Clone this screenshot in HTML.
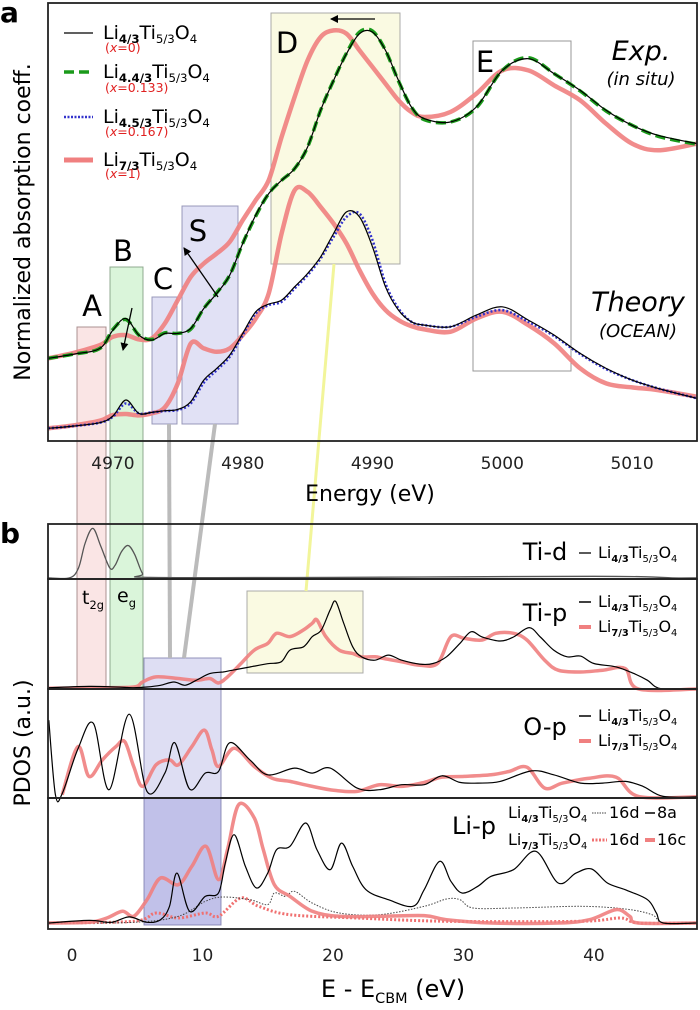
<!DOCTYPE html>
<html><head><meta charset="utf-8"><style>
html,body{margin:0;padding:0;background:#fff;}
svg{display:block;font-family:"DejaVu Sans","Liberation Sans",sans-serif;}
</style></head><body>
<svg id="fig" width="700" height="1010" viewBox="0 0 700 1010" xmlns="http://www.w3.org/2000/svg">
<g id="under"></g>
<g id="curves"></g>
<g id="over"></g>
</svg>
<script>
// ---------- Panel a data (energy eV, normalized intensity) ----------
const aE = [4965,4967,4969,4970,4971,4972,4973,4974,4975,4976,4977,4978,4979,4980,4981,4982,4983,4984,4985,4986,4987,4988,4989,4990,4991,4992,4993,4994,4996,4998,5000,5002,5004,5006,5008,5010,5012,5015];
const expLi43 = [2.45,2.58,2.75,3.30,3.65,3.15,3.00,3.20,3.20,3.35,3.95,4.40,4.95,5.90,6.75,7.40,7.80,8.15,8.80,9.90,10.80,11.60,12.20,12.25,11.70,10.80,10.00,9.65,9.55,10.00,11.10,11.45,11.00,10.50,9.90,9.45,9.15,8.90];
const expLi443 = [2.45,2.58,2.75,3.32,3.62,3.15,3.02,3.22,3.20,3.33,3.95,4.42,4.95,5.90,6.72,7.40,7.80,8.15,8.80,9.90,10.80,11.62,12.25,12.28,11.70,10.78,10.00,9.62,9.55,9.98,11.10,11.48,11.00,10.48,9.88,9.45,9.12,8.88];
const expLi73 = [2.45,2.62,2.85,3.10,3.15,3.02,3.05,3.50,4.20,4.90,5.30,5.60,5.95,6.60,7.20,7.80,9.10,10.30,11.40,12.10,12.30,12.20,11.70,11.20,10.70,10.20,9.85,9.70,9.85,10.40,11.10,11.10,10.65,10.20,9.50,8.90,8.70,8.90];
const thLi43 = [0.35,0.42,0.52,0.72,1.20,0.80,0.83,0.88,0.92,1.15,1.80,2.15,2.55,3.20,3.85,4.08,4.20,4.60,5.00,5.50,6.20,6.85,6.70,5.80,4.60,3.90,3.55,3.45,3.40,3.75,4.00,3.60,3.15,2.60,2.15,1.80,1.55,1.25];
const thLi453 = [0.35,0.42,0.52,0.70,1.10,0.80,0.83,0.87,0.90,1.10,1.72,2.10,2.50,3.15,3.80,4.05,4.15,4.55,4.95,5.45,6.10,6.70,6.80,6.00,4.70,3.95,3.55,3.45,3.40,3.70,3.90,3.55,3.12,2.58,2.13,1.80,1.55,1.25];
const thLi73 = [0.35,0.44,0.58,0.75,0.78,0.74,0.80,0.98,1.70,2.90,2.75,2.65,2.75,3.15,3.65,4.40,6.20,7.50,7.45,7.00,6.50,5.90,5.10,4.40,3.90,3.60,3.42,3.32,3.25,3.65,3.85,3.45,2.90,2.15,1.70,1.58,1.50,1.30];
const aTicks = [4970,4980,4990,5000,5010];

// ---------- Panel b data (E - E_CBM, a.u.) ----------
const tidE = [-1.8,-0.2,0.5,1.0,1.6,2.2,2.9,3.3,3.8,4.3,4.8,5.4,6,20,30,40,44,46,47.9];
const tidV = [0.02,0.02,0.2,0.65,0.92,0.6,0.2,0.25,0.5,0.61,0.45,0.1,0.03,0.03,0.04,0.05,0.04,0.02,0.02];
const tipBlackE = [-1.78,1.30,3.36,4.73,5.75,6.78,7.81,8.66,9.52,10.55,11.58,12.26,13.63,15.00,16.03,16.71,17.74,18.42,19.11,19.79,20.21,20.82,21.51,22.19,23.22,24.25,25.27,26.64,27.67,28.70,29.73,30.58,31.44,32.81,33.84,35.03,35.89,36.92,37.95,38.97,40.00,41.71,43.08,44.11,45.14,47.9];
const tipBlackV = [0.012,0.024,0.018,0.012,0.018,0.034,0.064,0.034,0.079,0.14,0.155,0.17,0.20,0.23,0.247,0.354,0.384,0.476,0.537,0.72,0.796,0.598,0.384,0.293,0.262,0.308,0.262,0.226,0.232,0.293,0.415,0.52,0.473,0.436,0.473,0.558,0.473,0.354,0.293,0.299,0.232,0.201,0.140,0.079,0.003,0];
const tipRedE = [-1.78,1.99,4.73,5.41,6.44,8.15,9.52,10.55,11.23,11.92,12.95,13.97,15.00,15.68,16.71,17.74,18.42,18.77,19.45,20.48,21.51,22.19,23.22,23.90,25.27,26.64,28.01,29.04,30.07,31.44,32.47,33.84,34.86,36.23,37.26,38.97,40.68,42.40,43.42,47.9];
const tipRedV = [0.006,0.012,0.018,0.064,0.110,0.095,0.079,0.095,0.055,0.110,0.232,0.354,0.415,0.506,0.476,0.537,0.598,0.628,0.476,0.354,0.323,0.293,0.293,0.277,0.247,0.216,0.232,0.476,0.460,0.445,0.506,0.506,0.445,0.262,0.171,0.155,0.171,0.186,0.0,0];
const opBlackE = [-1.78,-1.27,-0.75,0.45,1.64,2.84,4.38,5.75,7.12,7.88,9.01,10.21,11.23,12.09,13.63,15.00,17.05,18.42,19.79,21.85,23.56,25.27,26.99,28.36,29.73,31.10,32.81,35.21,36.92,38.97,40.68,42.40,43.77,45.31,47.9];
const opBlackV = [0.714,0.03,0.04,0.45,0.684,0.076,0.769,0.061,0.228,0.507,0.082,0.228,0.243,0.507,0.350,0.213,0.274,0.228,0.274,0.091,0.076,0.122,0.122,0.204,0.143,0.137,0.152,0.249,0.213,0.137,0.137,0.152,0.106,0.015,0.01];
const opRedE = [-0.75,0.45,1.30,2.33,3.36,4.04,4.73,5.41,6.44,7.47,8.15,9.18,10.14,10.72,11.23,12.43,13.97,15.34,16.71,18.42,20.14,21.85,23.56,25.27,26.99,28.36,30.07,32.12,33.49,34.86,36.23,37.60,39.66,41.71,43.42,47.9];
const opRedV = [0.03,0.471,0.198,0.350,0.471,0.517,0.289,0.106,0.304,0.350,0.304,0.471,0.623,0.441,0.289,0.456,0.289,0.182,0.152,0.106,0.070,0.061,0.122,0.106,0.143,0.191,0.198,0.213,0.243,0.283,0.091,0.137,0.182,0.191,0.015,0.01];
const li8aE = [-1.78,1.30,3.01,4.38,5.75,6.78,7.47,8.05,9.01,10.21,11.23,11.75,12.43,13.29,14.14,15.00,15.68,16.71,17.91,18.77,19.79,20.65,21.51,22.53,24.25,26.13,26.99,28.18,29.04,29.90,31.10,32.12,33.84,35.55,37.26,38.63,39.83,41.03,42.40,44.11,44.79,45.31,47.9];
const li8aV = [0.046,0.066,0.051,0.092,0.051,0.071,0.173,0.427,0.135,0.249,0.275,0.504,0.720,0.478,0.313,0.427,0.606,0.631,0.809,0.606,0.453,0.656,0.478,0.300,0.224,0.173,0.300,0.517,0.364,0.275,0.326,0.402,0.453,0.593,0.351,0.427,0.458,0.351,0.300,0.224,0.122,0.046,0.046];
const li16cE = [-1.78,1.30,2.67,3.87,4.73,5.75,6.78,8.15,9.18,10.27,11.23,11.92,12.77,13.97,14.66,15.51,16.71,18.42,20.48,23.56,26.99,28.70,32.12,37.26,39.66,41.71,42.74,43.42,47.9];
const li16cV = [0.046,0.051,0.084,0.135,0.097,0.224,0.389,0.338,0.478,0.631,0.377,0.606,0.949,0.847,0.606,0.338,0.249,0.135,0.097,0.097,0.102,0.071,0.046,0.046,0.071,0.148,0.097,0.046,0.046];
const li16dBlackE = [-1.78,4.73,8.15,10.21,11.58,13.63,15.00,15.51,16.37,17.05,18.42,20.48,23.56,26.99,28.70,29.73,30.75,33.84,38.97,42.40,44.45,45.31,47.9];
const li16dBlackV = [0.046,0.051,0.097,0.211,0.244,0.224,0.186,0.275,0.249,0.288,0.198,0.122,0.109,0.173,0.229,0.224,0.160,0.160,0.173,0.153,0.109,0.046,0.046];
const li16dRedE = [-1.78,4.73,6.44,8.15,10.21,11.23,12.94,14.31,16.71,21.85,28.70,38.97,42.05,43.42,47.9];
const li16dRedV = [0.046,0.059,0.122,0.084,0.122,0.097,0.237,0.173,0.109,0.084,0.059,0.059,0.084,0.046,0.046];
const bTicks = [0,10,20,30,40];

const NS = "http://www.w3.org/2000/svg";
const under = document.getElementById('under');
const curvesG = document.getElementById('curves');
const over = document.getElementById('over');
function el(tag, attrs, parent){ const e=document.createElementNS(NS,tag); for(const k in attrs) e.setAttribute(k,attrs[k]); parent.appendChild(e); return e; }

const aL=48, aR=697, aT=3, aB=441;
function xa(E){ return aL + (E-4965)/(5015-4965)*(aR-aL); }
function ya(v){ return 440 - v*33.3; }
const bX0=-1.84, bX1=47.9;
function xb(E){ return aL + (E-bX0)/(bX1-bX0)*(aR-aL); }
const sub = { tid:[524,579], tip:[579,689], op:[689,798], li:[798,929] };
function yb(key, v){ const [t,b]=sub[key]; return b - v*(b-t); }

function smoothPath(pts){
  let d = `M${pts[0][0].toFixed(1)},${pts[0][1].toFixed(1)}`;
  for(let i=0;i<pts.length-1;i++){
    const p0=pts[i-1]||pts[i], p1=pts[i], p2=pts[i+1], p3=pts[i+2]||p2;
    const c1=[p1[0]+(p2[0]-p0[0])/6, p1[1]+(p2[1]-p0[1])/6];
    const c2=[p2[0]-(p3[0]-p1[0])/6, p2[1]-(p3[1]-p1[1])/6];
    d+=` C${c1[0].toFixed(1)},${c1[1].toFixed(1)} ${c2[0].toFixed(1)},${c2[1].toFixed(1)} ${p2[0].toFixed(1)},${p2[1].toFixed(1)}`;
  }
  return d;
}
function curve(name, xs, ys, xf, yf, style){
  const pts = xs.map((x,i)=>[xf(x), yf(ys[i])]);
  const p = el('path', Object.assign({d:smoothPath(pts), fill:'none', 'stroke-linejoin':'round'}, style), curvesG);
  
  
  return p;
}
function rect(name, x, y, w, h, fill, stroke, parent){
  const r = el('rect',{x:x,y:y,width:w,height:h,fill:fill,stroke:stroke,'stroke-width':1},parent);
  
  
  return r;
}
function txt(name, x, y, s, attrs, parent){
  const t = el('text', Object.assign({x:x,y:y}, attrs||{}), parent||over);
  t.innerHTML = s;
  
  
  return t;
}
function line(name, x1,y1,x2,y2, style, parent){
  const l = el('line', Object.assign({x1:x1,y1:y1,x2:x2,y2:y2}, style), parent||over);
  
  
  return l;
}

rect('box-a', 77, 327, 29, 362, 'rgba(240,170,170,0.3)', 'rgba(150,120,120,0.8)', under);
rect('box-b', 110, 267, 33, 422, 'rgba(150,225,150,0.35)', 'rgba(120,150,120,0.8)', under);
rect('box-c', 152, 297, 25, 127, 'rgba(170,170,225,0.35)', 'rgba(130,130,170,0.8)', under);
rect('box-s', 182, 206, 56, 218, 'rgba(170,170,225,0.35)', 'rgba(130,130,170,0.8)', under);
rect('box-d', 271, 13, 129, 251, 'rgba(245,245,190,0.45)', 'rgba(150,150,150,0.8)', under);
rect('box-e', 473, 41, 98, 330, 'none', 'rgba(140,140,140,0.9)', under);
rect('box-b-blue', 144, 658, 77, 140, 'rgba(160,160,220,0.35)', 'rgba(120,120,170,0.8)', under);
rect('box-b-blue-li', 144, 798, 77, 127, 'rgba(100,100,200,0.4)', 'rgba(120,120,170,0.8)', under);
rect('box-b-yellow', 247, 591, 116, 82, 'rgba(245,245,190,0.45)', 'rgba(150,150,150,0.8)', under);
line('connector-c', 169, 424, 170, 658, {stroke:'#bbb','stroke-width':4}, under);
line('connector-s', 215, 424, 184, 658, {stroke:'#bbb','stroke-width':4}, under);
line('connector-d', 334, 264, 306, 591, {stroke:'#f2f59a','stroke-width':3}, under);

curve('exp-li73-curve', aE, expLi73, xa, ya, {stroke:'#f08080','stroke-width':4.5,opacity:0.9});
curve('exp-li443-curve', aE, expLi443, xa, ya, {stroke:'#1a9a1a','stroke-width':3.5,'stroke-dasharray':'10 5'});
curve('exp-li43-curve', aE, expLi43, xa, ya, {stroke:'#000','stroke-width':1.2});
curve('theory-li73-curve', aE, thLi73, xa, ya, {stroke:'#f08080','stroke-width':4.5,opacity:0.9});
curve('theory-li453-curve', aE, thLi453, xa, ya, {stroke:'#3333cc','stroke-width':2.5,'stroke-dasharray':'2 2'});
curve('theory-li43-curve', aE, thLi43, xa, ya, {stroke:'#000','stroke-width':1.2});

curve('tid-curve', tidE, tidV, xb, v=>yb('tid',v), {stroke:'#555','stroke-width':1.3});
curve('tip-li73-curve', tipRedE, tipRedV, xb, v=>yb('tip',v), {stroke:'#f08080','stroke-width':3.5,opacity:0.9});
curve('tip-li43-curve', tipBlackE, tipBlackV, xb, v=>yb('tip',v), {stroke:'#000','stroke-width':1.2});
curve('op-li73-curve', opRedE, opRedV, xb, v=>yb('op',v), {stroke:'#f08080','stroke-width':3.5,opacity:0.9});
curve('op-li43-curve', opBlackE, opBlackV, xb, v=>yb('op',v), {stroke:'#000','stroke-width':1.2});
curve('lip-li73-16d-curve', li16dRedE, li16dRedV, xb, v=>yb('li',v), {stroke:'#f07070','stroke-width':3,'stroke-dasharray':'2 2'});
curve('lip-li43-16d-curve', li16dBlackE, li16dBlackV, xb, v=>yb('li',v), {stroke:'#444','stroke-width':1,'stroke-dasharray':'1.5 1.5'});
curve('lip-li73-16c-curve', li16cE, li16cV, xb, v=>yb('li',v), {stroke:'#f08080','stroke-width':3.5,opacity:0.9});
curve('lip-li43-8a-curve', li8aE, li8aV, xb, v=>yb('li',v), {stroke:'#000','stroke-width':1.2});

rect('panel-a-frame', aL, aT, aR-aL, aB-aT, 'none', '#222', over).setAttribute('stroke-width',1.8);
for(const k of ['tid','tip','op','li']){
  const r = rect('panel-b-'+k+'-frame', aL, sub[k][0], aR-aL, sub[k][1]-sub[k][0], 'none', '#222', over);
  r.setAttribute('stroke-width',1.8);
}
aTicks.forEach(t=>{
  const tk = txt('x-tick-a', xa(t), 469, t, {'text-anchor':'middle','font-size':17,fill:'#222'});
  
});
bTicks.forEach(t=>{
  const tk = txt('x-tick-b', xb(t), 961, t, {'text-anchor':'middle','font-size':17,fill:'#222'});
  
});
</script>
<script>
(function(){
const over=document.getElementById('over');
const NS="http://www.w3.org/2000/svg";
function T(name,x,y,html,attrs){const t=document.createElementNS(NS,'text');t.setAttribute('x',x);t.setAttribute('y',y);for(const k in (attrs||{}))t.setAttribute(k,attrs[k]);t.innerHTML=html;over.appendChild(t);return t;}
function L(name,x1,y1,x2,y2,st){const l=document.createElementNS(NS,'line');l.setAttribute('x1',x1);l.setAttribute('y1',y1);l.setAttribute('x2',x2);l.setAttribute('y2',y2);for(const k in st)l.setAttribute(k,st[k]);over.appendChild(l);return l;}
function F(a){return `Li<tspan font-size="0.62em" font-weight="bold" dy="4">${a}</tspan><tspan dy="-4">Ti</tspan><tspan font-size="0.62em" dy="4">5/3</tspan><tspan dy="-4">O</tspan><tspan font-size="0.62em" dy="4">4</tspan>`;}

const defs=document.createElementNS(NS,'defs');
defs.innerHTML='<marker id="ah" markerWidth="8" markerHeight="8" refX="7" refY="4" orient="auto" markerUnits="userSpaceOnUse"><path d="M0,0 L8,4 L0,8 z" fill="#000"/></marker>';
over.appendChild(defs);

T('panel-a-label',0,22,'a',{'font-size':28,'font-weight':'bold'});
T('panel-b-label',0,543,'b',{'font-size':28,'font-weight':'bold'});
T('y-axis-title-a',30,222,'Normalized absorption coeff.',{'font-size':22,'text-anchor':'middle',transform:'rotate(-90 30 222)'});
T('y-axis-title-b',30,743,'PDOS (a.u.)',{'font-size':22,'text-anchor':'middle',transform:'rotate(-90 30 743)'});
T('x-axis-title-a',370,501,'Energy (eV)',{'font-size':22,'text-anchor':'middle'});
T('x-axis-title-b',393,997,'E - E<tspan font-size="0.6em" dy="6">CBM</tspan><tspan dy="-6"> (eV)</tspan>',{'font-size':24,'text-anchor':'middle'});

L('legend-line-li43',64,33,93,33,{stroke:'#000','stroke-width':1.3});
L('legend-line-li443',64,72,93,72,{stroke:'#1a9a1a','stroke-width':3.5,'stroke-dasharray':'10 5'});
L('legend-line-li453',64,117,93,117,{stroke:'#3333cc','stroke-width':2.5,'stroke-dasharray':'2 1.5'});
L('legend-line-li73',64,160,93,160,{stroke:'#f08080','stroke-width':5});
T('legend-li43',103,39,F('4/3'),{'font-size':19});
T('legend-li443',103,78,F('4.4/3'),{'font-size':19});
T('legend-li453',103,123,F('4.5/3'),{'font-size':19});
T('legend-li73',103,166,F('7/3'),{'font-size':19});
T('legend-x0',105,52,'(<tspan font-style="italic">x</tspan>=0)',{'font-size':12.5,fill:'#e02020'});
T('legend-x0133',105,92,'(<tspan font-style="italic">x</tspan>=0.133)',{'font-size':12.5,fill:'#e02020'});
T('legend-x0167',105,136,'(<tspan font-style="italic">x</tspan>=0.167)',{'font-size':12.5,fill:'#e02020'});
T('legend-x1',105,178,'(<tspan font-style="italic">x</tspan>=1)',{'font-size':12.5,fill:'#e02020'});

T('exp-label',641,60,'Exp.',{'font-size':27,'font-style':'italic','text-anchor':'middle'});
T('in-situ-label',641,85,'(in situ)',{'font-size':18,'font-style':'italic','text-anchor':'middle'});
T('theory-label',638,311,'Theory',{'font-size':27,'font-style':'italic','text-anchor':'middle'});
T('ocean-label',638,337,'(OCEAN)',{'font-size':18,'font-style':'italic','text-anchor':'middle'});

T('box-label-a',92,316,'A',{'font-size':29,'text-anchor':'middle'});
T('box-label-b',123,261,'B',{'font-size':29,'text-anchor':'middle'});
T('box-label-c',163,289,'C',{'font-size':29,'text-anchor':'middle'});
T('box-label-s',198,241,'S',{'font-size':29,'text-anchor':'middle'});
T('box-label-d',287,53,'D',{'font-size':29,'text-anchor':'middle'});
T('box-label-e',485,72,'E',{'font-size':29,'text-anchor':'middle'});

L('arrow-d',375,19,331,19,{stroke:'#000','stroke-width':1.3,'marker-end':'url(#ah)'});
L('arrow-b',132,308,123,350,{stroke:'#000','stroke-width':1.3,'marker-end':'url(#ah)'});
L('arrow-s',218,297,184,248,{stroke:'#000','stroke-width':1.3,'marker-end':'url(#ah)'});

T('t2g-label',82,604,'t<tspan font-size="0.6em" dy="5">2g</tspan>',{'font-size':19});
T('eg-label',117,602,'e<tspan font-size="0.6em" dy="5">g</tspan>',{'font-size':19});
T('tid-label',545,560,'Ti-d',{'font-size':24,'text-anchor':'middle'});
L('tid-legend-line',579,553,591,553,{stroke:'#222','stroke-width':1.5});
T('tid-legend-text',598,558,F('4/3'),{'font-size':16});
T('tip-label',545,621,'Ti-p',{'font-size':24,'text-anchor':'middle'});
L('tip-legend-line-li43',579,602,591,602,{stroke:'#000','stroke-width':1.5});
T('tip-legend-li43',598,607,F('4/3'),{'font-size':16});
L('tip-legend-line-li73',579,627,591,627,{stroke:'#f08080','stroke-width':4});
T('tip-legend-li73',598,632,F('7/3'),{'font-size':16});
T('op-label',545,735,'O-p',{'font-size':24,'text-anchor':'middle'});
L('op-legend-line-li43',579,716,591,716,{stroke:'#000','stroke-width':1.5});
T('op-legend-li43',598,721,F('4/3'),{'font-size':16});
L('op-legend-line-li73',579,741,591,741,{stroke:'#f08080','stroke-width':4});
T('op-legend-li73',598,746,F('7/3'),{'font-size':16});
T('lip-label',474,834,'Li-p',{'font-size':24,'text-anchor':'middle'});
T('lip-legend-li43',508,818,F('4/3'),{'font-size':16});
L('lip-legend-line-16d-li43',592,813,607,813,{stroke:'#444','stroke-width':1,'stroke-dasharray':'1.5 1'});
T('lip-legend-16d-a',609,818,'16d',{'font-size':16});
L('lip-legend-line-8a',645,813,655,813,{stroke:'#000','stroke-width':1.5});
T('lip-legend-8a',657,818,'8a',{'font-size':16});
T('lip-legend-li73',508,845,F('7/3'),{'font-size':16});
L('lip-legend-line-16d-li73',592,840,607,840,{stroke:'#f07070','stroke-width':3,'stroke-dasharray':'2 1.5'});
T('lip-legend-16d-b',609,845,'16d',{'font-size':16});
L('lip-legend-line-16c',645,840,655,840,{stroke:'#f08080','stroke-width':4});
T('lip-legend-16c',657,845,'16c',{'font-size':16});
})();
</script>
</body></html>
